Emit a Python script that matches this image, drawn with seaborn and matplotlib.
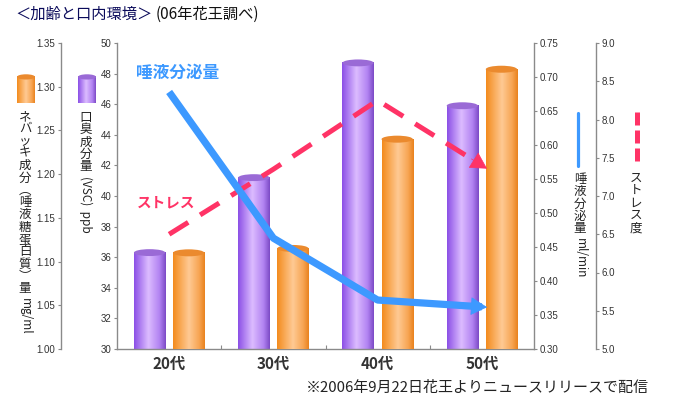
import numpy as np
import pandas as pd
import seaborn as sns
import matplotlib.pyplot as plt
from matplotlib.colors import LinearSegmentedColormap
from matplotlib.patches import Ellipse
from matplotlib.lines import Line2D
from matplotlib.ticker import FixedLocator, FormatStrFormatter

# 加齢と口内環境 (06年花王調べ) - 値はグラフから読み取り
ages = ["20代", "30代", "40代", "50代"]
vsc_ppb = [36.3, 41.2, 48.7, 45.9]          # 口臭成分量(VSC) ppb
mucin_mg_ml = [1.110, 1.115, 1.240, 1.320]  # ネバッキ成分 mg/ml
saliva_ml_min = [0.678, 0.463, 0.372, 0.362]  # 唾液分泌量 ml/min
stress_level = [6.5, 7.35, 8.25, 7.4]       # ストレス度

sns.set_theme(style="ticks")
plt.rcParams["font.family"] = ["Noto Sans CJK JP", "DejaVu Sans"]

W, H = 682, 401
PURPLE = "#a070f0"
ORANGE = "#f59a3a"
BLUE = "#3d99ff"
PINK = "#ff3366"
GRAY = "#8a8a8a"
purple_cmap = LinearSegmentedColormap.from_list(
    "p", [(0, "#8b4fe6"), (0.45, "#dcbcff"), (0.8, "#b283f2"), (1, "#7c4ac6")])
orange_cmap = LinearSegmentedColormap.from_list(
    "o", [(0, "#f38b1d"), (0.5, "#ffca94"), (0.82, "#f7a553"), (1, "#e9821e")])


def fx(x):
    return x / W


def fy(y):
    return 1 - y / H


def cylinder(a, x0, x1, y0, y1, cmap, cap, cap_h):
    a.imshow(np.linspace(0, 1, 128)[None, :], extent=(x0, x1, y0, y1), cmap=cmap,
             aspect="auto", interpolation="bilinear", zorder=2)
    a.add_patch(Ellipse(((x0 + x1) / 2, y1), x1 - x0, cap_h, facecolor=cap,
                        edgecolor="none", zorder=3))


fig = plt.figure(figsize=(W / 100, H / 100), dpi=100)
ax = fig.add_axes([fx(117), fy(349), (534 - 117) / W, (349 - 43) / H])
ax_mucin = ax.twinx()
ax_stress = ax.twinx()
ax_blue = ax.twinx()

bars = pd.DataFrame({
    "age": ages * 2,
    "series": ["vsc"] * 4 + ["mucin"] * 4,
    "value": vsc_ppb + mucin_mg_ml,
})
hue_order = ["vsc", "mucin"]
pal = {"vsc": PURPLE, "mucin": ORANGE}
cyl_style = {"vsc": (purple_cmap, "#9a6ad6", 0.45), "mucin": (orange_cmap, "#eb8a2e", 0.008)}

# each axis gets the full dodged barplot, then keeps only its own series
for a, key in [(ax, "vsc"), (ax_mucin, "mucin")]:
    sns.barplot(data=bars, x="age", y="value", hue="series", hue_order=hue_order,
                palette=pal, width=0.75, gap=0.2, errorbar=None, legend=False, ax=a)
    a.set_xlabel("")
    a.set_ylabel("")
    for level, cont in zip(hue_order, a.containers):
        for p in cont.patches:
            p.set_visible(False)
            if level == key:
                x0, w = p.get_x(), p.get_width()
                cylinder(a, x0, x0 + w, p.get_y(), p.get_y() + p.get_height(), *cyl_style[key])

xpos = np.arange(len(ages))
sns.lineplot(x=xpos, y=stress_level, ax=ax_stress, color=PINK, lw=3.6,
             linestyle=(0, (4.5, 2.8)), dash_capstyle="butt", legend=False)
sns.lineplot(x=xpos, y=saliva_ml_min, ax=ax_blue, color=BLUE, lw=5.2,
             solid_capstyle="butt", solid_joinstyle="round", legend=False)


def arrow_head(a, vals, color):
    slope = vals[-1] - vals[-2]
    tip = len(vals) - 1 + 0.05
    tail = len(vals) - 1 - 0.1
    a.annotate("", xy=(tip, vals[-1] + slope * 0.05), xytext=(tail, vals[-1] - slope * 0.1),
               arrowprops=dict(arrowstyle="-|>,head_length=0.9,head_width=0.5",
                               color=color, lw=0.5, mutation_scale=12,
                               shrinkA=0, shrinkB=0))


arrow_head(ax_stress, stress_level, PINK)
arrow_head(ax_blue, saliva_ml_min, BLUE)

# axes, spines, ticks
ax.set_xlim(-0.5, 3.5)
ax.set_ylim(30, 50)
ax.set_yticks(np.arange(30, 51, 2))
ax_mucin.set_ylim(1.00, 1.35)
ax_mucin.set_yticks(np.arange(1.00, 1.351, 0.05))
ax_mucin.yaxis.set_major_formatter(FormatStrFormatter("%.2f"))
ax_blue.set_ylim(0.30, 0.75)
ax_blue.set_yticks(np.arange(0.30, 0.751, 0.05))
ax_blue.yaxis.set_major_formatter(FormatStrFormatter("%.2f"))
ax_stress.set_ylim(5.0, 9.0)
ax_stress.set_yticks(np.arange(5.0, 9.01, 0.5))
ax_stress.yaxis.set_major_formatter(FormatStrFormatter("%.1f"))

ax_mucin.yaxis.set_ticks_position("left")
ax_mucin.spines["left"].set_position(("axes", (61 - 117) / (534 - 117)))
ax_stress.spines["right"].set_position(("axes", (596 - 117) / (534 - 117)))

visible = {ax: ["left", "bottom"], ax_mucin: ["left"], ax_blue: ["right"], ax_stress: ["right"]}
for a, keep in visible.items():
    for name, sp in a.spines.items():
        sp.set_visible(name in keep)
        sp.set_color(GRAY)
        sp.set_linewidth(1)
    a.tick_params(axis="y", length=2, width=0.8, color=GRAY, labelsize=7,
                  labelcolor="#333333", pad=2)
    for lbl in a.get_yticklabels():
        lbl.set_fontfamily("Liberation Sans")

ax.tick_params(axis="x", length=0, pad=5, labelsize=11, labelcolor="#333333")
for lbl in ax.get_xticklabels():
    lbl.set_fontweight("bold")
ax.xaxis.set_minor_locator(FixedLocator([0.5, 1.5, 2.5]))
ax.tick_params(axis="x", which="minor", length=3, direction="in", color=GRAY, width=0.8)

# titles and notes
fig.text(fx(15), fy(14), "＜加齢と口内環境＞", fontsize=11, color="#0a0a5a", va="center")
fig.text(fx(156), fy(14), "(06年花王調べ)", fontsize=11, color="#111111", va="center")
fig.text(fx(306), fy(388), "※2006年9月22日花王よりニュースリリースで配信",
         fontsize=10.8, color="#222222", va="center")

fig.text(fx(136), fy(73), "唾液分泌量", fontsize=12, fontweight="bold", color=BLUE, va="center")
fig.text(fx(137), fy(202), "ストレス", fontsize=10.5, fontweight="bold", color=PINK, va="center")


def vlabel(x, y, jp, latin="", size=9, step=12.3):
    for i, ch in enumerate(jp):
        fig.text(fx(x), fy(y + i * step), ch, ha="center", va="top",
                 fontsize=size, color="#222222")
    if latin:
        fig.text(fx(x), fy(y + len(jp) * step + 3), latin, ha="center", va="top",
                 rotation=-90, fontsize=size - 0.5, color="#222222")


vlabel(25, 110, "ネバッキ成分︵唾液糖蛋白質︶量", "mg/ml")
vlabel(86, 111, "口臭成分量", "(VSC)  ppb")
vlabel(580, 173, "唾液分泌量", "ml/min")
vlabel(636, 172, "ストレス度")

# series markers beside the axis titles
fig.add_artist(Line2D([fx(578), fx(578)], [fy(113), fy(166)], color=BLUE, lw=2.3))
fig.add_artist(Line2D([fx(637), fx(637)], [fy(112), fy(163)], color=PINK, lw=3.6,
                      linestyle=(0, (2.6, 1.0)), dash_capstyle="butt"))
for x0, cmap, cap in [(17, orange_cmap, "#eb8a2e"), (78, purple_cmap, "#9a6ad6")]:
    icon = fig.add_axes([fx(x0), fy(103), 18 / W, 29 / H])
    icon.set_axis_off()
    cylinder(icon, 0, 1, 0, 0.9, cmap, cap, 0.18)
    icon.set_xlim(0, 1)
    icon.set_ylim(0, 1)

fig.savefig("out.png", dpi=100)
